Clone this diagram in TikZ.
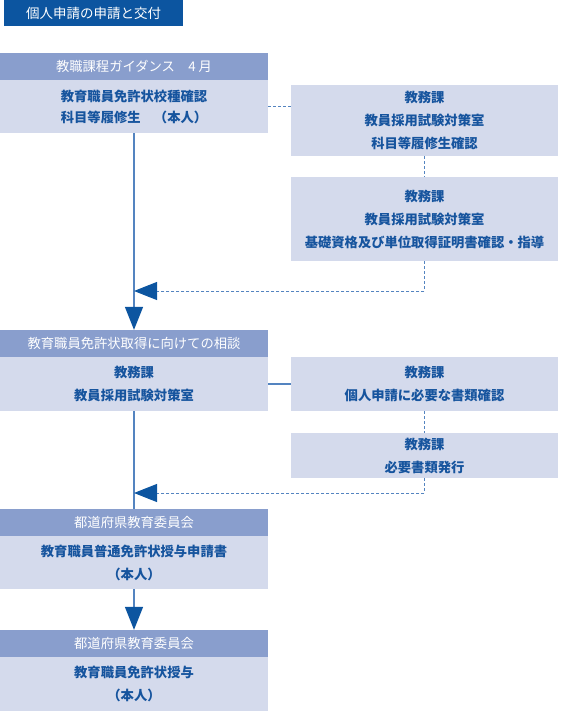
\documentclass[tikz,border=0pt]{standalone}
\usepackage{fontspec}
\setmainfont{Noto Sans CJK JP}
\usetikzlibrary{arrows.meta}
\definecolor{deepblue}{RGB}{12,85,160}
\definecolor{headblue}{RGB}{137,158,205}
\definecolor{paleblue}{RGB}{212,218,236}
\definecolor{inkblue}{RGB}{22,84,158}
\definecolor{lineblue}{RGB}{84,132,192}
\tikzset{
	titlebox/.style={fill=deepblue,text=white,minimum width=179pt,minimum height=26pt,inner sep=0pt,font=\fontsize{13.5}{16}\selectfont},
	headbox/.style={fill=headblue,text=white,minimum width=268pt,minimum height=27pt,inner sep=0pt,font=\fontsize{13.3}{16}\selectfont},
	bodybox/.style={fill=paleblue,text=inkblue,minimum width=268pt,inner sep=0pt,align=center,font=\fontsize{13.3}{23}\selectfont\bfseries},
	sidebox/.style={bodybox,minimum width=267pt},
	mainline/.style={draw=lineblue,line width=1.4pt},
	dashline/.style={draw=lineblue,line width=1pt,dash pattern=on 3pt off 2pt},
	bigtip/.style={-{Triangle[width=18pt,length=23pt,color=deepblue]}}
}
\begin{document}
\begin{tikzpicture}[x=1pt,y=-1pt]
	\useasboundingbox (0,0) rectangle (560,711);
	\node[titlebox] (title) at (93.5,13) {個人申請の申請と交付};
	% left column
	\node[headbox] (h1) at (134,66.5) {教職課程ガイダンス　4 月};
	\node[bodybox,minimum height=53pt,font=\fontsize{13.3}{21}\selectfont\bfseries] (b1) at (134,106.5) {教育職員免許状校種確認\\科目等履修生　（本人）};
	\node[headbox] (h2) at (134,343.5) {教育職員免許状取得に向けての相談};
	\node[bodybox,minimum height=54pt] (b2) at (134,384) {教務課\\教員採用試験対策室};
	\node[headbox] (h3) at (134,522.5) {都道府県教育委員会};
	\node[bodybox,minimum height=53pt] (b3) at (134,562.5) {教育職員普通免許状授与申請書\\（本人）};
	\node[headbox] (h4) at (134,643.5) {都道府県教育委員会};
	\node[bodybox,minimum height=54pt] (b4) at (134,684) {教育職員免許状授与\\（本人）};
	% right column
	\node[sidebox,minimum height=71pt] (s1) at (424.5,120.5) {教務課\\教員採用試験対策室\\科目等履修生確認};
	\node[sidebox,minimum height=84pt] (s2) at (424.5,219) {教務課\\教員採用試験対策室\\基礎資格及び単位取得証明書確認・指導};
	\node[sidebox,minimum height=54pt] (s3) at (424.5,384) {教務課\\個人申請に必要な書類確認};
	\node[sidebox,minimum height=45pt] (s4) at (424.5,455.5) {教務課\\必要書類発行};
	% connectors
	\draw[mainline,bigtip] (b1.south) -- (h2.north);
	\draw[mainline] (b2.south) -- (h3.north);
	\draw[mainline,bigtip] (b3.south) -- (h4.north);
	\draw[dashline] (b1.east) -- (b1.east -| s1.west);
	\draw[dashline] (s1.south) -- (s2.north);
	\draw[dashline] (s3.south) -- (s4.north);
	\draw[mainline] (b2.east) -- (s3.west);
	\coordinate (j1) at (b1.south |- 0,291);
	\coordinate (j2) at (b2.south |- 0,493);
	\draw[dashline,bigtip] (s2.south) |- (j1);
	\draw[dashline,bigtip] (s4.south) |- (j2);
\end{tikzpicture}
\end{document}
